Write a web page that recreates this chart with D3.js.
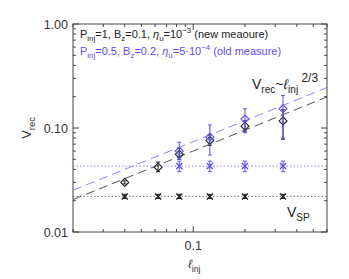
<!DOCTYPE html>
<html><head><meta charset="utf-8">
<script src="https://cdn.jsdelivr.net/npm/d3@7"></script>
<style>body{margin:0;background:#fff}svg{display:block}text{font-family:"Liberation Sans",Arial,sans-serif}</style>
</head><body>
<script>
// ---- data ----
const xNew = [0.04, 0.0625, 0.083, 0.125, 0.2, 0.333];
const vrecNew = [0.030, 0.042, 0.056, 0.076, 0.104, 0.117];
const vrecNewLo = [0.029, 0.038, 0.050, 0.068, 0.093, 0.078];
const vrecNewHi = [0.031, 0.047, 0.064, 0.086, 0.117, 0.150];
const vspNew = [0.022, 0.022, 0.022, 0.022, 0.022, 0.022];
const vspNewLo = [0.021, 0.021, 0.021, 0.021, 0.021, 0.021];
const vspNewHi = [0.023, 0.023, 0.023, 0.023, 0.023, 0.023];

const xOld = [0.083, 0.125, 0.2, 0.333];
const vrecOld = [0.060, 0.082, 0.122, 0.153];
const vrecOldLo = [0.050, 0.055, 0.090, 0.080];
const vrecOldHi = [0.073, 0.107, 0.153, 0.205];
const vspOld = [0.043, 0.043, 0.043, 0.043];
const vspOldLo = [0.038, 0.038, 0.038, 0.038];
const vspOldHi = [0.048, 0.048, 0.048, 0.048];

// fit lines V ~ l^(2/3): endpoints
const fitX = [0.02, 0.6];
const fitNew = [0.0205, 0.199];
const fitOld = [0.0252, 0.245];
const vspLevelNew = 0.022;
const vspLevelOld = 0.043;

const xDomain = [0.02, 0.6];
const yDomain = [0.01, 1.0];
const xMajor = [0.1];
const xMajorLabels = ["0.1"];
const xMinor = [0.02,0.03,0.04,0.05,0.06,0.07,0.08,0.09,0.2,0.3,0.4,0.5,0.6];
const yMajor = [0.01, 0.1, 1.0];
const yMajorLabels = ["0.01", "0.10", "1.00"];
const yMinor = [0.02,0.03,0.04,0.05,0.06,0.07,0.08,0.09,0.2,0.3,0.4,0.5,0.6,0.7,0.8,0.9];

// ---- layout ----
const W = 349, H = 279;
const L = 73, R = 327, T = 24, B = 232;
const BLACK = "#222", BLUE = "#5a4ef0", BLUEL = "#8c86ff", GREY = "#555", AX = "#444";

const svg = d3.select("body").append("svg").attr("width", W).attr("height", H);
const x = d3.scaleLog().domain(xDomain).range([L, R]);
const y = d3.scaleLog().domain(yDomain).range([B, T]);

// rich text helper
function rich(g, px, py, segs, size, color, anchor) {
  const t = g.append("text").attr("x", px).attr("y", py).attr("font-size", size)
    .attr("fill", color).attr("text-anchor", anchor || "start");
  let shift = 0;
  segs.forEach(s => {
    const [txt, kind, style] = s;
    let target = 0, fs = size;
    if (kind === "sub") { target = size * 0.3; fs = size * 0.72; }
    else if (kind === "sup") { target = -size * 0.45; fs = size * 0.72; }
    else if (kind === "sup2") { target = -size * 0.5; fs = size * 0.85; }
    const sp = t.append("tspan").text(txt).attr("dy", target - shift).attr("font-size", fs);
    if (style) sp.attr("font-style", style);
    shift = target;
  });
  return t;
}

// lines
const line = d3.line().x(d => x(d[0])).y(d => y(d[1]));
svg.append("path").attr("d", line([[xDomain[0], vspLevelNew],[xDomain[1], vspLevelNew]]))
  .attr("stroke", "#777").attr("stroke-width", 1).attr("stroke-dasharray", "1.5,2").attr("fill", "none");
svg.append("path").attr("d", line([[xDomain[0], vspLevelOld],[xDomain[1], vspLevelOld]]))
  .attr("stroke", BLUEL).attr("stroke-width", 1).attr("stroke-dasharray", "1.5,2").attr("fill", "none");
svg.append("path").attr("d", line(fitX.map((v,i)=>[v, fitNew[i]])))
  .attr("stroke", GREY).attr("stroke-width", 1).attr("stroke-dasharray", "9,5").attr("fill", "none");
svg.append("path").attr("d", line(fitX.map((v,i)=>[v, fitOld[i]])))
  .attr("stroke", BLUEL).attr("stroke-width", 1).attr("stroke-dasharray", "9,5").attr("fill", "none");

function errbars(xs, lo, hi, color) {
  const g = svg.append("g").attr("stroke", color).attr("stroke-width", 1);
  xs.forEach((xv, i) => {
    g.append("line").attr("x1", x(xv)).attr("x2", x(xv)).attr("y1", y(lo[i])).attr("y2", y(hi[i]));
    [lo[i], hi[i]].forEach(v => g.append("line").attr("x1", x(xv)-2).attr("x2", x(xv)+2).attr("y1", y(v)).attr("y2", y(v)));
  });
}
function diamonds(xs, ys, color) {
  svg.append("g").selectAll("path").data(xs).join("path")
    .attr("d", (d, i) => { const cx = x(d), cy = y(ys[i]), r = 4; return `M${cx},${cy-r}L${cx+r},${cy}L${cx},${cy+r}L${cx-r},${cy}Z`; })
    .attr("fill", "none").attr("stroke", color).attr("stroke-width", 1.1);
}
function crosses(xs, ys, color) {
  svg.append("g").selectAll("path").data(xs).join("path")
    .attr("d", (d, i) => { const cx = x(d), cy = y(ys[i]), r = 3; return `M${cx-r},${cy-r}L${cx+r},${cy+r}M${cx-r},${cy+r}L${cx+r},${cy-r}`; })
    .attr("fill", "none").attr("stroke", color).attr("stroke-width", 1.4);
}

errbars(xNew, vspNewLo, vspNewHi, BLACK);
crosses(xNew, vspNew, BLACK);
errbars(xNew, vrecNewLo, vrecNewHi, BLACK);
diamonds(xNew, vrecNew, BLACK);
errbars(xOld, vspOldLo, vspOldHi, BLUE);
crosses(xOld, vspOld, BLUE);
errbars(xOld, vrecOldLo, vrecOldHi, BLUE);
diamonds(xOld, vrecOld, BLUE);

// axes box
const ax = svg.append("g").attr("stroke", AX).attr("stroke-width", 1).attr("fill", "none");
ax.append("rect").attr("x", L).attr("y", T).attr("width", R - L).attr("height", B - T);
xMajor.forEach(v => { ax.append("line").attr("x1", x(v)).attr("x2", x(v)).attr("y1", B).attr("y2", B-6);
  ax.append("line").attr("x1", x(v)).attr("x2", x(v)).attr("y1", T).attr("y2", T+6); });
xMinor.forEach(v => { ax.append("line").attr("x1", x(v)).attr("x2", x(v)).attr("y1", B).attr("y2", B-3);
  ax.append("line").attr("x1", x(v)).attr("x2", x(v)).attr("y1", T).attr("y2", T+3); });
yMajor.forEach(v => { ax.append("line").attr("x1", L).attr("x2", L+6).attr("y1", y(v)).attr("y2", y(v));
  ax.append("line").attr("x1", R).attr("x2", R-6).attr("y1", y(v)).attr("y2", y(v)); });
yMinor.forEach(v => { ax.append("line").attr("x1", L).attr("x2", L+3).attr("y1", y(v)).attr("y2", y(v));
  ax.append("line").attr("x1", R).attr("x2", R-3).attr("y1", y(v)).attr("y2", y(v)); });

// tick labels
yMajor.forEach((v, i) => svg.append("text").attr("x", L - 5).attr("y", y(v) + 4.5).attr("text-anchor", "end")
  .attr("font-size", 12.5).attr("fill", "#333").text(yMajorLabels[i]));
xMajor.forEach((v, i) => svg.append("text").attr("x", x(v)).attr("y", B + 18).attr("text-anchor", "middle")
  .attr("font-size", 12.5).attr("fill", "#333").text(xMajorLabels[i]));

// axis titles
rich(svg, x(0.1) + 1, 268, [["ℓ", null, "italic"], ["inj", "sub"]], 12, "#333", "middle");
const yt = rich(svg, 0, 0, [["V", null], ["rec", "sub"]], 13, "#333", "middle");
yt.attr("transform", "translate(31,128) rotate(-90)");

// legend
rich(svg, 80, 38, [["P"],["inj","sub"],["=1, B"],["z","sub"],["=0.1, "],["η",null,"italic"],["u","sub"],["=10"],["−3","sup"],[" (new meaoure)"]], 11, BLACK);
rich(svg, 80, 55, [["P"],["inj","sub"],["=0.5, B"],["z","sub"],["=0.2, "],["η",null,"italic"],["u","sub"],["=5·10"],["−4","sup"],[" (old measure)"]], 11, BLUE);

// annotations
rich(svg, 252, 89, [["V"],["rec","sub"],["~"],["ℓ",null,"italic"],["inj","sub"],[" 2/3","sup2"]], 14, BLACK);
rich(svg, 287, 217, [["V"],["SP","sub"]], 14, BLACK);
</script>
</body></html>
